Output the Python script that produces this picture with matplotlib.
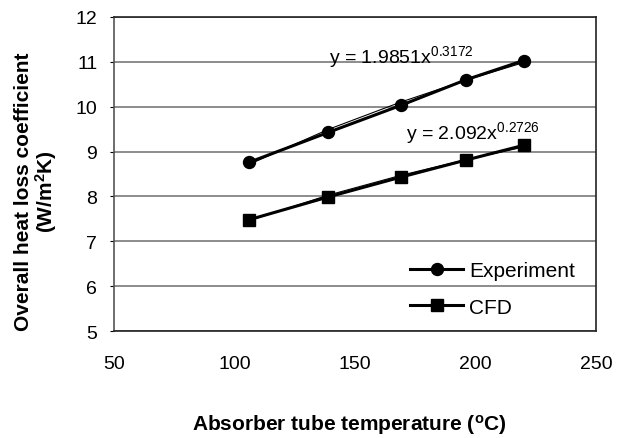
import matplotlib
matplotlib.use("Agg")
import matplotlib.pyplot as plt
import numpy as np

plt.rcParams['font.family'] = ['Liberation Sans', 'DejaVu Sans']
plt.rcParams['mathtext.fontset'] = 'custom'
plt.rcParams['mathtext.rm'] = 'Liberation Sans'
plt.rcParams['mathtext.bf'] = 'Liberation Sans:bold'
plt.rcParams['mathtext.default'] = 'regular'

# absorber temperature (C) and heat loss coefficient (W/m2K)
temp = [106, 139, 169, 196, 220]
exp_u = [8.76, 9.43, 10.03, 10.60, 11.03]
cfd_u = [7.48, 7.99, 8.43, 8.81, 9.14]

# power-law trendlines y = a * x^b
exp_fit = (1.9851, 0.3172)
cfd_fit = (2.092, 0.2726)

fig = plt.figure(figsize=(6.3, 4.39), dpi=100)
ax = fig.add_axes([0.181, 0.2437, 0.765, 0.7153])

ax.plot(temp, exp_u, color='black', lw=2.2, marker='o', markersize=8.6, label='Experiment', zorder=3)
ax.plot(temp, cfd_u, color='black', lw=2.2, marker='s', markersize=8, label='CFD', zorder=3)

xt = np.array(temp, dtype=float)
ax.plot(xt, exp_fit[0] * xt ** exp_fit[1], color='black', lw=0.8, zorder=4)
ax.plot(xt, cfd_fit[0] * xt ** cfd_fit[1], color='black', lw=0.8, zorder=4)

ax.text(169, 11.0, r"y = 1.9851x$^{0.3172}$", fontsize=14, ha='center', va='baseline')
ax.text(199, 9.3, r"y = 2.092x$^{0.2726}$", fontsize=14, ha='center', va='baseline')

ax.set_xlim(50, 250)
ax.set_ylim(5, 12)
ax.set_xticks([50, 100, 150, 200, 250])
ax.set_yticks(range(5, 13))
ax.yaxis.grid(True, color='#8c8c8c', lw=1.4)
ax.set_axisbelow(True)
ax.tick_params(axis='x', length=0, pad=17, labelsize=14)
ax.tick_params(axis='y', length=3, pad=9, labelsize=14)
for side in ['top', 'right', 'bottom']:
    ax.spines[side].set_color('#222222')
ax.spines['left'].set_color('#555555')
for s in ax.spines.values():
    s.set_linewidth(1.2)

ax.legend(loc='center left', frameon=False, fontsize=15, handlelength=2.55,
          handletextpad=0.3, labelspacing=0.84, borderpad=0, borderaxespad=0,
          bbox_to_anchor=(0.614, 0.134))

fig.text(0.037, 0.563, "Overall heat loss coefficient", rotation=90, fontsize=15,
         fontweight='bold', ha='center', va='center')
fig.text(0.073, 0.563, r"(W/m$\mathbf{^2}$K)", rotation=90, fontsize=15,
         fontweight='bold', ha='center', va='center')
fig.text(0.554, 0.032, r"Absorber tube temperature ($\mathbf{^o}$C)", fontsize=15,
         fontweight='bold', ha='center', va='center')

fig.savefig("out.png", dpi=100)
